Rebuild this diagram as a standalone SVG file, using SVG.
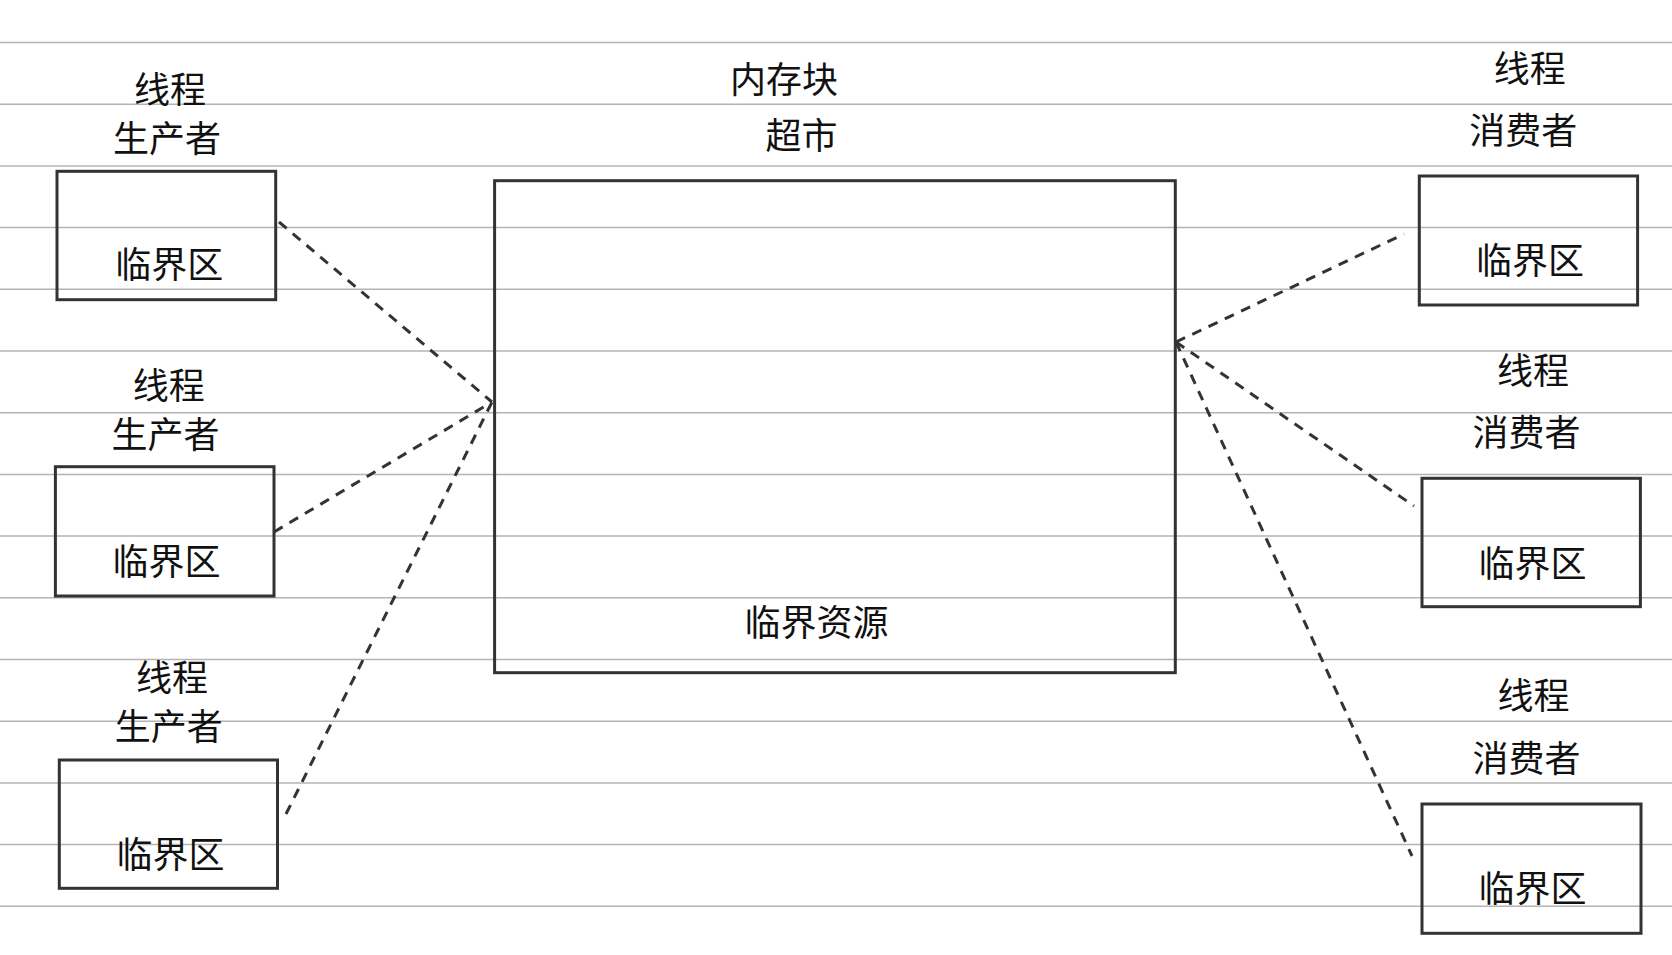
<svg xmlns="http://www.w3.org/2000/svg" width="1672" height="955" viewBox="0 0 1672 955">
<style>
.rule{stroke:#b4b4b4;stroke-width:1.5}
.box{fill:none;stroke:#333;stroke-width:3}
.t{font-family:"Noto Sans CJK SC","Noto Sans",sans-serif;font-size:36px;fill:#111;text-anchor:middle}
.dash{stroke:#333;stroke-width:3;stroke-dasharray:10 8;fill:none}
</style>
<rect width="1672" height="955" fill="#fff"/>
<g id="rules">
<line class="rule" x1="0" y1="42.5" x2="1672" y2="42.5"/>
<line class="rule" x1="0" y1="104.2" x2="1672" y2="104.2"/>
<line class="rule" x1="0" y1="165.9" x2="1672" y2="165.9"/>
<line class="rule" x1="0" y1="227.6" x2="1672" y2="227.6"/>
<line class="rule" x1="0" y1="289.3" x2="1672" y2="289.3"/>
<line class="rule" x1="0" y1="351" x2="1672" y2="351"/>
<line class="rule" x1="0" y1="412.7" x2="1672" y2="412.7"/>
<line class="rule" x1="0" y1="474.4" x2="1672" y2="474.4"/>
<line class="rule" x1="0" y1="536.1" x2="1672" y2="536.1"/>
<line class="rule" x1="0" y1="597.8" x2="1672" y2="597.8"/>
<line class="rule" x1="0" y1="659.5" x2="1672" y2="659.5"/>
<line class="rule" x1="0" y1="721.2" x2="1672" y2="721.2"/>
<line class="rule" x1="0" y1="782.9" x2="1672" y2="782.9"/>
<line class="rule" x1="0" y1="844.6" x2="1672" y2="844.6"/>
<line class="rule" x1="0" y1="906.3" x2="1672" y2="906.3"/>
</g>
<g id="connectors">
<line class="dash" x1="279" y1="222" x2="492" y2="402"/>
<line class="dash" x1="274" y1="532" x2="492" y2="402"/>
<line class="dash" x1="286" y1="814" x2="492" y2="402"/>
<line class="dash" x1="1176" y1="342" x2="1404" y2="234"/>
<line class="dash" x1="1176" y1="342" x2="1414" y2="506"/>
<line class="dash" x1="1176" y1="342" x2="1412" y2="856"/>
</g>
<g id="memory">
<rect class="box" x="494.6" y="180.7" width="680.7" height="492"/>
<text class="t" x="784" y="93">内存块</text>
<text class="t" x="801.5" y="149">超市</text>
<text class="t" x="816.4" y="636">临界资源</text>
</g>
<g id="producer1">
<rect class="box" x="57" y="171.3" width="218.7" height="128.4"/>
<text class="t" x="170" y="103">线程</text>
<text class="t" x="167" y="152">生产者</text>
<text class="t" x="169.3" y="278">临界区</text>
</g>
<g id="producer2">
<rect class="box" x="55.4" y="466.7" width="218.6" height="129.3"/>
<text class="t" x="168.8" y="399">线程</text>
<text class="t" x="165.5" y="448">生产者</text>
<text class="t" x="166.4" y="575">临界区</text>
</g>
<g id="producer3">
<rect class="box" x="59.3" y="760" width="218.2" height="128.3"/>
<text class="t" x="172" y="691">线程</text>
<text class="t" x="168.7" y="740">生产者</text>
<text class="t" x="170.5" y="868">临界区</text>
</g>
<g id="consumer1">
<rect class="box" x="1419.3" y="176" width="218.3" height="129"/>
<text class="t" x="1529.7" y="82">线程</text>
<text class="t" x="1523.3" y="144">消费者</text>
<text class="t" x="1530" y="274">临界区</text>
</g>
<g id="consumer2">
<rect class="box" x="1422" y="478.3" width="218.4" height="128.4"/>
<text class="t" x="1532.9" y="384">线程</text>
<text class="t" x="1526.6" y="446">消费者</text>
<text class="t" x="1532.4" y="577">临界区</text>
</g>
<g id="consumer3">
<rect class="box" x="1422" y="804" width="219" height="129.3"/>
<text class="t" x="1533.4" y="709">线程</text>
<text class="t" x="1526.6" y="772">消费者</text>
<text class="t" x="1532.4" y="902">临界区</text>
</g>
</svg>
